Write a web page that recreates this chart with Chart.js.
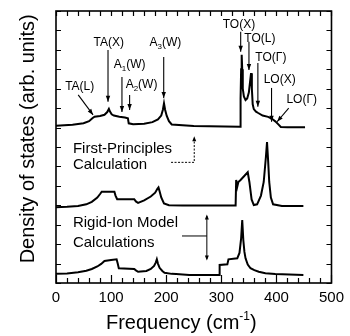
<!DOCTYPE html>
<html>
<head>
<meta charset="utf-8">
<script src="https://cdn.jsdelivr.net/npm/chart.js@4"></script>
<style>
  html, body { margin: 0; padding: 0; background: #fff; }
  #wrap { width: 350px; height: 336px; }
</style>
</head>
<body>
<div id="wrap"><canvas id="c" width="350" height="336"></canvas></div>
<script>
// ---- Data (frequency in cm^-1, density of states in arbitrary stacked units) ----
const freqTop = [0, 30, 50, 60, 66, 70, 80, 88, 93, 96, 98, 101, 105, 115, 125, 130.5, 132, 140, 160, 175, 185, 191, 194, 196, 198, 201, 205, 210, 250, 334, 335, 336, 337, 338, 339, 341, 344, 347, 350, 352, 354, 355.5, 357, 359, 363, 367, 375, 385, 392, 398, 404, 408, 420, 452];
const dosTop  = [8.10, 8.14, 8.22, 8.33, 8.48, 8.56, 8.60, 8.66, 8.80, 8.96, 8.82, 8.68, 8.62, 8.56, 8.52, 8.48, 8.22, 8.17, 8.20, 8.28, 8.42, 8.62, 8.92, 9.25, 8.92, 8.60, 8.33, 8.16, 8.08, 8.04, 9.5, 11.0, 11.75, 11.0, 10.0, 9.6, 9.42, 9.5, 9.8, 10.3, 10.8, 10.0, 9.2, 8.95, 8.82, 8.75, 8.62, 8.55, 8.45, 8.32, 8.15, 8.03, 8.02, 8.02];

const freqMid = [0, 20, 40, 55, 65, 75, 80, 83, 106, 108, 111, 142, 145, 149, 160, 172, 180, 184, 186, 188, 191, 196, 205, 230, 326, 327, 329, 331, 335, 348, 351, 355, 359, 365, 372, 377, 381, 383, 385, 387, 390, 394, 410, 449];
const dosMid  = [3.90, 3.92, 3.96, 4.05, 4.18, 4.40, 4.58, 4.70, 4.70, 4.50, 4.31, 4.31, 4.20, 4.12, 4.25, 4.45, 4.65, 4.85, 4.92, 4.72, 4.40, 4.10, 4.00, 3.99, 3.99, 5.30, 4.96, 5.20, 5.30, 5.70, 5.20, 4.30, 4.01, 4.05, 4.50, 5.20, 6.50, 7.25, 6.30, 5.20, 4.40, 4.05, 3.96, 3.96];

const freqBot = [0, 20, 40, 55, 65, 75, 82, 88, 100, 110, 112, 114, 142, 145, 149, 164, 172, 178, 181, 183, 185, 188, 193, 197, 210, 218, 242, 296, 297, 311, 313, 329, 333, 336, 338, 340, 342, 344, 348, 353, 360, 368, 380, 398, 449];
const dosBot  = [0.47, 0.49, 0.55, 0.63, 0.72, 0.85, 0.98, 1.13, 1.18, 1.22, 1.00, 0.76, 0.72, 0.65, 0.58, 0.62, 0.72, 0.88, 1.05, 1.22, 1.00, 0.78, 0.62, 0.53, 0.47, 0.46, 0.41, 0.41, 0.93, 0.96, 1.22, 1.27, 1.55, 2.30, 3.24, 2.20, 1.60, 1.27, 0.95, 0.76, 0.66, 0.58, 0.50, 0.46, 0.41];

// Tick labels on the frequency axis
const xTickLabels = [0, 100, 200, 300, 400, 500];

// Peak labels (text, x-frequency, y-value of text centre)
const peakLabels = [
  ["TA(L)", 43, 10.09],
  ["TA(X)", 95.7, 12.35],
  ["A1(W)", 133.6, 11.22],
  ["A2(W)", 155.2, 10.19],
  ["A3(W)", 198.6, 12.35],
  ["TO(X)", 332, 13.28],
  ["TO(L)", 370, 12.56],
  ["TO(Γ)", 390, 11.58],
  ["LO(X)", 406, 10.45],
  ["LO(Γ)", 446, 9.42]
];
// Arrows: [x1, y1, x2, y2] in data units (head at x2,y2)
const peakArrows = [
  [40.3, 9.68, 67.3, 8.65],
  [94.4, 11.99, 94.4, 9.33],
  [119.7, 10.6, 119.7, 8.8],
  [133.6, 9.68, 133.6, 8.9],
  [195.5, 11.63, 195.5, 9.52],
  [335.2, 12.93, 335.2, 11.9],
  [350.2, 12.42, 350.2, 10.96],
  [366.4, 11.32, 366.4, 9.07],
  [391.2, 10.04, 391.2, 8.3],
  [422.4, 9.0, 401.3, 8.3]
];
// Block notes (text lines, left x, y)
const noteLines = [
  ["First-Principles", 30.7, 6.93],
  ["Calculation", 30.7, 6.07],
  ["Rigid-Ion Model", 30.7, 3.07],
  ["Calculations", 30.7, 2.07]
];

const FONT = '"Liberation Sans", Arial, Helvetica, sans-serif';

function xy(fs, vs) { return fs.map((f, i) => ({ x: f, y: vs[i] })); }

function arrowHead(ctx, x1, y1, x2, y2, len, half) {
  const ang = Math.atan2(y2 - y1, x2 - x1);
  ctx.beginPath();
  ctx.moveTo(x2, y2);
  ctx.lineTo(x2 - len * Math.cos(ang) + half * Math.sin(ang), y2 - len * Math.sin(ang) - half * Math.cos(ang));
  ctx.lineTo(x2 - len * Math.cos(ang) - half * Math.sin(ang), y2 - len * Math.sin(ang) + half * Math.cos(ang));
  ctx.closePath();
  ctx.fill();
}

function drawSubLabel(ctx, text, cx, cy, size) {
  // handles A1(W) style subscript digit after first letter
  const m = text.match(/^([A-Z])(\d)(.*)$/);
  ctx.textBaseline = 'middle';
  if (m) {
    const big = size + 'px ' + FONT, small = Math.round(size * 0.7) + 'px ' + FONT;
    ctx.font = big; const w1 = ctx.measureText(m[1]).width; const w3 = ctx.measureText(m[3]).width;
    ctx.font = small; const w2 = ctx.measureText(m[2]).width;
    let x = cx - (w1 + w2 + w3) / 2;
    ctx.textAlign = 'left';
    ctx.font = big; ctx.fillText(m[1], x, cy); x += w1;
    ctx.font = small; ctx.fillText(m[2], x, cy + size * 0.3); x += w2;
    ctx.font = big; ctx.fillText(m[3], x, cy);
  } else {
    ctx.font = size + 'px ' + FONT;
    ctx.textAlign = 'center';
    ctx.fillText(text, cx, cy);
  }
}

const decorPlugin = {
  id: 'decor',
  afterDraw(chart) {
    const ctx = chart.ctx, xs = chart.scales.x, ys = chart.scales.y, a = chart.chartArea;
    ctx.save();
    ctx.strokeStyle = '#000'; ctx.fillStyle = '#000';
    // inward ticks
    ctx.lineWidth = 1.2;
    ctx.beginPath();
    xs.ticks.forEach(t => {
      const px = Math.round(xs.getPixelForValue(t.value)) + 0.5;
      const major = xTickLabels.includes(t.value);
      ctx.moveTo(px, a.bottom); ctx.lineTo(px, a.bottom - (major ? 8 : 5));
      ctx.moveTo(px, a.top); ctx.lineTo(px, a.top + 5);
    });
    ys.ticks.forEach(t => {
      const py = Math.round(ys.getPixelForValue(t.value)) + 0.5;
      ctx.moveTo(a.left, py); ctx.lineTo(a.left + 5, py);
      ctx.moveTo(a.right, py); ctx.lineTo(a.right - 5, py);
    });
    ctx.stroke();
    // frame
    ctx.lineWidth = 1.6;
    ctx.strokeRect(a.left, a.top, a.width, a.height);

    // peak labels
    peakLabels.forEach(([t, f, v]) => drawSubLabel(ctx, t, xs.getPixelForValue(f), ys.getPixelForValue(v), 12));
    // arrows
    ctx.lineWidth = 1.1;
    peakArrows.forEach(([f1, v1, f2, v2]) => {
      const x1 = xs.getPixelForValue(f1), y1 = ys.getPixelForValue(v1);
      const x2 = xs.getPixelForValue(f2), y2 = ys.getPixelForValue(v2);
      ctx.beginPath(); ctx.moveTo(x1, y1); ctx.lineTo(x2, y2); ctx.stroke();
      arrowHead(ctx, x1, y1, x2, y2, 6, 2.2);
    });
    // notes
    ctx.font = '15px ' + FONT; ctx.textAlign = 'left'; ctx.textBaseline = 'middle';
    noteLines.forEach(([t, f, v]) => ctx.fillText(t, xs.getPixelForValue(f), ys.getPixelForValue(v)));
    // First-principles connector (dashed with up arrow)
    ctx.lineWidth = 1;
    ctx.setLineDash([2, 1.5]);
    ctx.beginPath();
    ctx.moveTo(xs.getPixelForValue(208.8), ys.getPixelForValue(6.21));
    ctx.lineTo(xs.getPixelForValue(250.9), ys.getPixelForValue(6.21));
    ctx.lineTo(xs.getPixelForValue(250.9), ys.getPixelForValue(7.4));
    ctx.stroke();
    ctx.setLineDash([]);
    arrowHead(ctx, xs.getPixelForValue(250.9), ys.getPixelForValue(7.0), xs.getPixelForValue(250.9), ys.getPixelForValue(7.55), 5, 2);
    // Rigid-ion connector (solid with double arrow)
    ctx.beginPath();
    ctx.moveTo(xs.getPixelForValue(228.7), ys.getPixelForValue(2.42));
    ctx.lineTo(xs.getPixelForValue(273.8), ys.getPixelForValue(2.42));
    ctx.moveTo(xs.getPixelForValue(273.8), ys.getPixelForValue(3.45));
    ctx.lineTo(xs.getPixelForValue(273.8), ys.getPixelForValue(1.23));
    ctx.stroke();
    arrowHead(ctx, xs.getPixelForValue(273.8), ys.getPixelForValue(3.0), xs.getPixelForValue(273.8), ys.getPixelForValue(3.52), 5, 2);
    arrowHead(ctx, xs.getPixelForValue(273.8), ys.getPixelForValue(1.6), xs.getPixelForValue(273.8), ys.getPixelForValue(1.16), 5, 2);

    // axis titles
    ctx.textBaseline = 'alphabetic';
    ctx.font = '20px ' + FONT; ctx.textAlign = 'left';
    const t1 = 'Frequency (cm', sup = '-1', t2 = ')';
    const w1 = ctx.measureText(t1).width, w3 = ctx.measureText(t2).width;
    ctx.font = '12px ' + FONT; const w2 = ctx.measureText(sup).width;
    let tx = a.left + a.width * 0.455 - (w1 + w2 + w3) / 2;
    const ty = 329;
    ctx.font = '20px ' + FONT; ctx.fillText(t1, tx, ty); tx += w1;
    ctx.font = '12px ' + FONT; ctx.fillText(sup, tx, ty - 9); tx += w2;
    ctx.font = '20px ' + FONT; ctx.fillText(t2, tx, ty);

    ctx.save();
    ctx.translate(34, a.top + a.height * 0.47);
    ctx.rotate(-Math.PI / 2);
    ctx.font = '20px ' + FONT; ctx.textAlign = 'center';
    ctx.fillText('Density of states (arb. units)', 0, 0);
    ctx.restore();
    ctx.restore();
  }
};

const lineStyle = { borderColor: '#000', borderWidth: 2, pointRadius: 0, tension: 0, fill: false, showLine: true };

new Chart(document.getElementById('c'), {
  type: 'line',
  data: {
    datasets: [
      Object.assign({ label: 'Top', data: xy(freqTop, dosTop) }, lineStyle),
      Object.assign({ label: 'First-Principles', data: xy(freqMid, dosMid) }, lineStyle),
      Object.assign({ label: 'Rigid-Ion', data: xy(freqBot, dosBot) }, lineStyle)
    ]
  },
  options: {
    responsive: false,
    animation: false,
    layout: { padding: { top: 11, right: 16, left: 0, bottom: 0 } },
    plugins: { legend: { display: false }, tooltip: { enabled: false } },
    scales: {
      x: {
        type: 'linear', min: 0, max: 500,
        grid: { display: false, drawTicks: false },
        border: { display: false },
        ticks: {
          stepSize: 20, autoSkip: false, maxRotation: 0, padding: 6, color: '#000',
          font: { size: 15, family: FONT },
          callback: v => xTickLabels.includes(v) ? String(v) : ''
        },
        afterFit: s => { s.height = 53; }
      },
      y: {
        min: 0, max: 14,
        grid: { display: false, drawTicks: false },
        border: { display: false },
        ticks: { stepSize: 1, callback: () => '' },
        afterFit: s => { s.width = 56; }
      }
    }
  },
  plugins: [decorPlugin]
});
</script>
</body>
</html>
